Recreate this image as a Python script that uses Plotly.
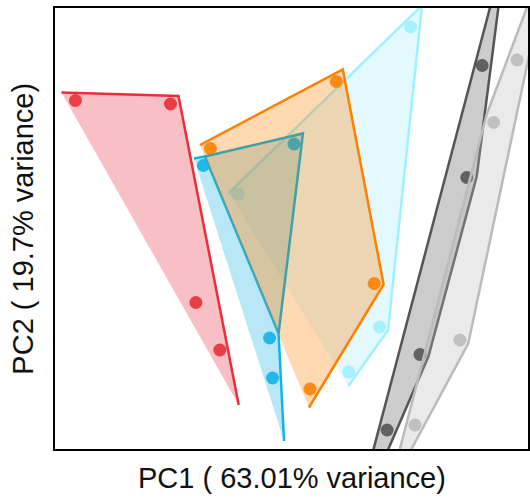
import plotly.graph_objects as go

# ---- data (PC scores, arbitrary units) ----
red_x = [-4.49, -2.58, -2.07, -1.59]
red_y = [2.99, 2.92, -1.05, -2.00]
red_hull_x = [-4.77, -2.42, -1.21]
red_hull_y = [3.15, 3.08, -3.10]

blue_x = [-1.92, -0.59, -0.53]
blue_y = [1.69, -1.76, -2.56]
blue_hull_x = [-2.11, -1.89, -0.41, -0.30]
blue_hull_y = [1.83, 1.87, -1.67, -3.82]

cyan_x = [2.24, 1.62, 1.00, -1.22]
cyan_y = [4.46, -1.54, -2.44, 1.12]
cyan_hull_x = [-1.41, 2.47, 1.79, 0.99]
cyan_hull_y = [1.14, 4.89, -1.60, -2.72]

teal_x = [-0.10]
teal_y = [2.12]
teal_hull_x = [-1.89, 0.08, -0.41]
teal_hull_y = [1.87, 2.33, -1.67]

orange_x = [-1.78, 0.75, 1.51, 0.22]
orange_y = [2.03, 3.37, -0.67, -2.78]
orange_hull_x = [-1.99, 0.88, 1.70, 0.20]
orange_hull_y = [2.10, 3.61, -0.69, -3.15]

dark_x = [3.68, 3.37, 2.43, 1.77]
dark_y = [3.69, 1.45, -2.09, -3.60]
dark_hull_x = [1.44, 3.93, 4.05, 3.57, 2.60, 1.70]
dark_hull_y = [-4.20, 5.20, 5.20, 1.47, -2.13, -4.20]

grey_x = [4.38, 3.91, 3.23, 2.33]
grey_y = [3.80, 2.55, -1.80, -3.50]
grey_hull_x = [1.97, 3.77, 4.71, 4.90, 3.40, 2.14]
grey_hull_y = [-4.20, 2.71, 5.20, 5.20, -1.87, -4.20]

x_label = "PC1 ( 63.01% variance)"
y_label = "PC2 ( 19.7% variance)"

RGB = {
    "red": "232,48,58",
    "blue": "20,178,232",
    "cyan": "160,240,255",
    "teal": "64,160,168",
    "orange": "255,128,0",
    "dark": "85,85,85",
    "grey": "187,187,187",
}
LW = 2.5
MS = 13

fig = go.Figure()


def hull(name, hx, hy, line=True, fill=True, closed=True):
    rgb = RGB[name]
    if fill:
        fig.add_trace(go.Scatter(
            x=hx, y=hy, mode="lines" if line else "none", fill="toself",
            fillcolor=f"rgba({rgb},0.3)",
            line=dict(color=f"rgb({rgb})", width=LW if line else 0),
            hoverinfo="skip", showlegend=False, name=name + " hull"))
    elif line:
        xs = list(hx) + ([hx[0]] if closed else [])
        ys = list(hy) + ([hy[0]] if closed else [])
        fig.add_trace(go.Scatter(
            x=xs, y=ys, mode="lines",
            line=dict(color=f"rgb({rgb})", width=LW),
            hoverinfo="skip", showlegend=False, name=name + " outline"))


def points(name, px, py):
    rgb = RGB[name]
    fig.add_trace(go.Scatter(
        x=px, y=py, mode="markers",
        marker=dict(color=f"rgba({rgb},0.9)", size=MS, line=dict(width=0)),
        showlegend=False, name=name))


hull("red", red_hull_x, red_hull_y); points("red", red_x, red_y)
hull("blue", blue_hull_x, blue_hull_y); points("blue", blue_x, blue_y)
hull("cyan", cyan_hull_x, cyan_hull_y); points("cyan", cyan_x, cyan_y)
hull("teal", teal_hull_x, teal_hull_y, line=False)
hull("orange", orange_hull_x, orange_hull_y); points("orange", orange_x, orange_y)
# teal outline (its left edge lies under the orange outline)
hull("teal", teal_hull_x, teal_hull_y, fill=False, closed=False)
points("teal", teal_x, teal_y)
hull("dark", dark_hull_x, dark_hull_y); points("dark", dark_x, dark_y)
hull("grey", grey_hull_x, grey_hull_y); points("grey", grey_x, grey_y)

axis_common = dict(showgrid=False, zeroline=False, showticklabels=False,
                   ticks="", showline=True, linecolor="black", linewidth=2,
                   mirror=True)
fig.update_xaxes(range=[-4.9, 4.6], **axis_common)
fig.update_yaxes(range=[-3.98, 4.84], **axis_common)

fig.update_layout(
    width=530, height=500,
    margin=dict(l=55, r=0, t=8, b=51),
    plot_bgcolor="white", paper_bgcolor="white",
    font=dict(family="Liberation Sans, Arial, sans-serif", color="black"),
    annotations=[
        dict(text=x_label, xref="paper", yref="paper", x=0.5, y=-0.066,
             xanchor="center", yanchor="middle", showarrow=False,
             font=dict(size=29, color="#111")),
        dict(text=y_label, xref="paper", yref="paper", x=-0.0695, y=0.5,
             xanchor="center", yanchor="middle", showarrow=False,
             textangle=-90, font=dict(size=29, color="#111")),
    ],
)

fig.write_html("out.html")
